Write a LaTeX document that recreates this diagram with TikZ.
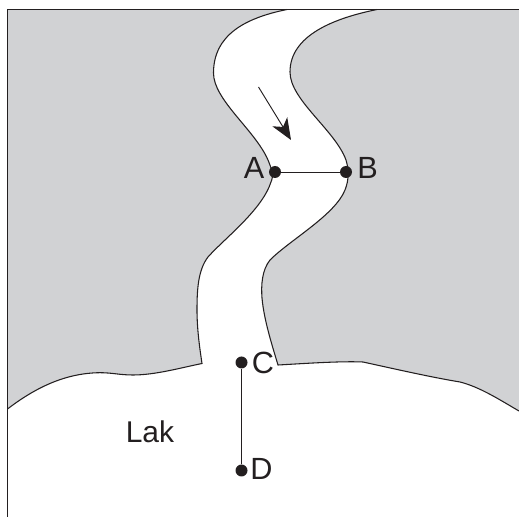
\documentclass[tikz,border=0pt]{standalone}
\usepackage{fontspec}
\setmainfont{Liberation Sans}
\usetikzlibrary{arrows.meta}
\definecolor{land}{HTML}{D1D2D4}
\definecolor{ink}{HTML}{231F20}
\def\leftbank{(287,9.5) .. controls (245,18) and (213.5,35) .. (213.5,73) .. controls (213.5,100) and (255,130) .. (268,160) .. controls (272,170) and (274,175) .. (271,182) .. controls (262,210) and (225,238) .. (208,257) .. controls (198,270) and (197,290) .. (197,310) .. controls (197,330) and (200,350) .. (202,363.5)}
\def\leftshore{ .. controls (180,368) and (155,375) .. (133,375) .. controls (120,375) and (112,372.7) .. (100,372.7) .. controls (65,373) and (35,388) .. (7.5,409)}
\def\rightbank{(377,9.5) .. controls (335,18) and (290,35) .. (290,72) .. controls (290,100) and (335,130) .. (346,160) .. controls (349,170) and (349,180) .. (345,190) .. controls (335,215) and (290,240) .. (270,260) .. controls (262,270) and (261,285) .. (262,298) .. controls (264,320) and (272,345) .. (278,365)}
\def\rightshore{ .. controls (305,363.5) and (340,361) .. (363,362) .. controls (395,369) and (430,377) .. (460,382) .. controls (480,387) and (500,400) .. (519,411)}
\tikzset{
  bank/.style={draw=ink,line width=0.8pt,line join=miter},
  frameline/.style={draw=ink,line width=1.3pt},
  connector/.style={draw=ink,line width=0.65pt},
  flow/.style={draw=ink,line width=0.7pt,-{Stealth[length=16pt,width=13pt,inset=4.5pt]}},
  dotmark/.style={circle,fill=ink,inner sep=0pt,minimum size=9pt},
  lbl/.style={font=\fontsize{23}{23}\selectfont,text=ink,inner sep=0pt}
}
\begin{document}
\begin{tikzpicture}[x=0.75pt,y=-0.75pt]
\useasboundingbox (0,0) rectangle (519,517);
% land
\fill[land] (7.5,9.5) -- \leftbank \leftshore -- cycle;
\fill[land] (519,9.5) -- \rightbank \rightshore -- cycle;
% outlines
\draw[bank] \leftbank \leftshore;
\draw[bank] \rightbank \rightshore;
\draw[frameline] (7.5,517) -- (7.5,9.5) -- (519,9.5);
% flow arrow
\coordinate (flowstart) at (258.5,87);
\coordinate (flowend) at (291,140);
\draw[flow] (flowstart) -- (flowend);
% points
\node[dotmark] (A) at (275,172) {};
\node[dotmark] (B) at (346,172) {};
\node[dotmark] (C) at (241.5,362.5) {};
\node[dotmark] (D) at (241.5,470.5) {};
\draw[connector] (A) -- (B);
\draw[connector] (C) -- (D);
\node[lbl] (la) at (254,168) {A};
\node[lbl] (lb) at (367.5,168) {B};
\node[lbl] (lc) at (263,362.5) {C};
\node[lbl] (ld) at (261.5,469) {D};
\node[lbl,font=\fontsize{22.5}{22.5}\selectfont] (lake) at (150,432) {Lak};
\end{tikzpicture}
\end{document}
